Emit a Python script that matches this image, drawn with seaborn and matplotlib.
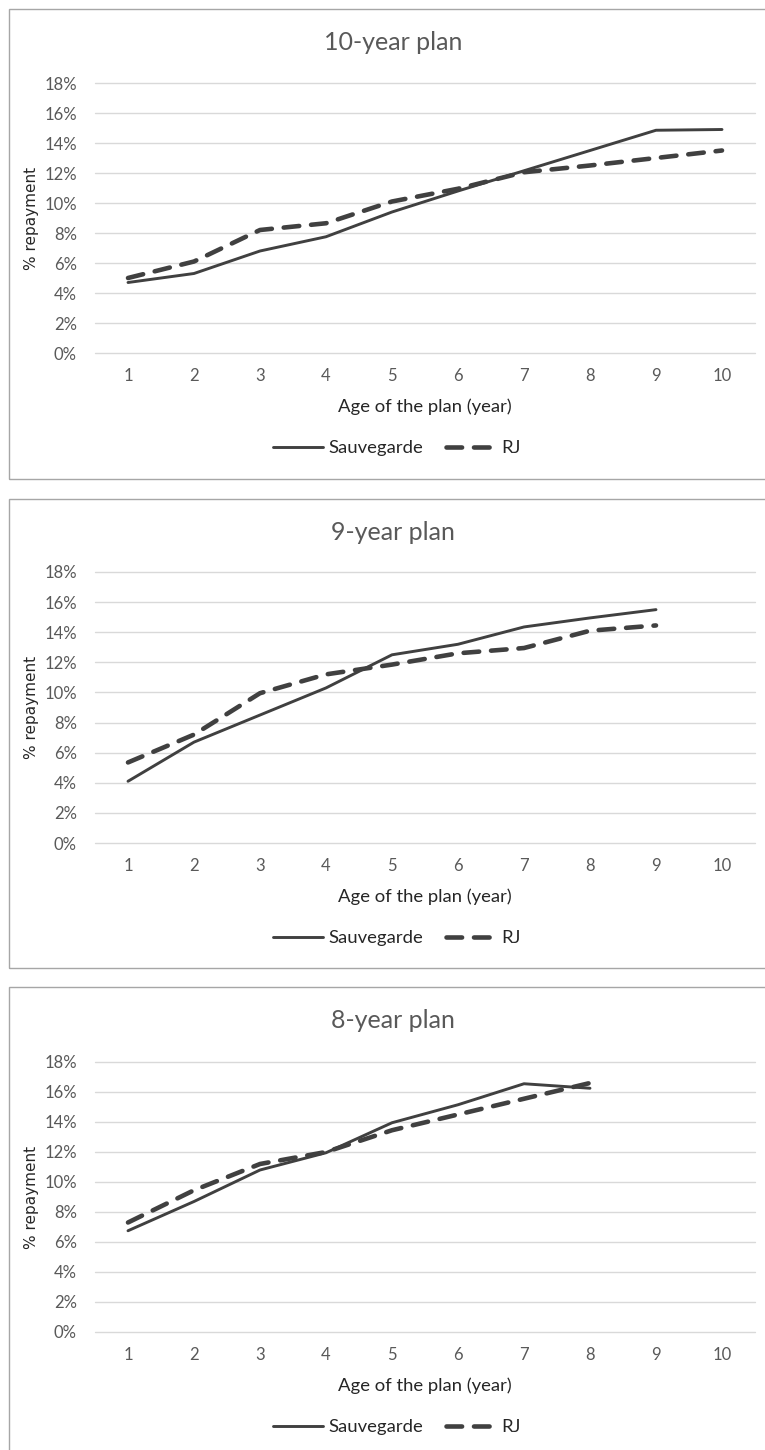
import matplotlib
matplotlib.use("Agg")
import matplotlib.pyplot as plt
from matplotlib.patches import Rectangle
from matplotlib.lines import Line2D
import seaborn as sns
import pandas as pd

# --- data -----------------------------------------------------------------
plan_titles = ["10-year plan", "9-year plan", "8-year plan"]
age_ticks = [1, 2, 3, 4, 5, 6, 7, 8, 9, 10]
pct_ticks = [0, 2, 4, 6, 8, 10, 12, 14, 16, 18]
pct_labels = ["0%", "2%", "4%", "6%", "8%", "10%", "12%", "14%", "16%", "18%"]
series_names = ["Sauvegarde", "RJ"]

sauvegarde_10 = [4.7, 5.3, 6.8, 7.75, 9.4, 10.8, 12.15, 13.5, 14.85, 14.9]
rj_10 = [5.0, 6.1, 8.2, 8.65, 10.1, 10.95, 12.05, 12.5, 13.0, 13.5]

sauvegarde_9 = [4.1, 6.7, 8.5, 10.3, 12.5, 13.2, 14.35, 14.95, 15.5]
rj_9 = [5.35, 7.2, 9.95, 11.2, 11.85, 12.6, 12.95, 14.1, 14.45]

sauvegarde_8 = [6.75, 8.7, 10.8, 11.95, 13.95, 15.15, 16.55, 16.25]
rj_8 = [7.3, 9.45, 11.2, 12.0, 13.45, 14.5, 15.55, 16.6]

panels = [
    (plan_titles[0], sauvegarde_10, rj_10),
    (plan_titles[1], sauvegarde_9, rj_9),
    (plan_titles[2], sauvegarde_8, rj_8),
]

# --- styling --------------------------------------------------------------
sns.set_theme(style="white")
plt.rcParams["font.family"] = ["Lato", "DejaVu Sans"]

LINE_COLOR = "#404040"
GRID_COLOR = "#d9d9d9"
TEXT_COLOR = "#595959"
BORDER_COLOR = "#a6a6a6"
RJ_DASHES = (3.4, 2.6)

W, H = 765, 1450
fig = plt.figure(figsize=(W / 100, H / 100), dpi=100)

# pixel layout of each chart block (top of box, y of 18% line, y of 0% line, bottom of box)
blocks = [
    (9, 83, 353, 479),
    (499, 572, 843, 968),
    (987, 1062, 1332, 1460),
]
AX_LEFT, AX_RIGHT = 95, 755


def fx(px):
    return px / W


def fy(py):
    return 1 - py / H


for (title, sauv, rj), (box_top, y18, y0, box_bot) in zip(panels, blocks):
    # chart border
    fig.patches.append(Rectangle((fx(9), fy(box_bot)), fx(790 - 9), (box_bot - box_top) / H,
                                 transform=fig.transFigure, fill=False,
                                 edgecolor=BORDER_COLOR, linewidth=1.0, zorder=0))

    ax = fig.add_axes([fx(AX_LEFT), fy(y0), fx(AX_RIGHT - AX_LEFT), (y0 - y18) / H])

    df_s = pd.DataFrame({"age": age_ticks[:len(sauv)], "value": sauv})
    df_r = pd.DataFrame({"age": age_ticks[:len(rj)], "value": rj})

    sns.lineplot(data=df_s, x="age", y="value", ax=ax, color=LINE_COLOR,
                 linewidth=2.1, solid_capstyle="round", solid_joinstyle="round", zorder=3)
    sns.lineplot(data=df_r, x="age", y="value", ax=ax, color=LINE_COLOR,
                 linewidth=3.3, dashes=RJ_DASHES, zorder=4)
    for ln in ax.get_lines()[-1:]:
        ln.set_dashes(RJ_DASHES)
        ln.set_dash_capstyle("round")

    ax.set_xlim(0.5, 10.5)
    ax.set_ylim(0, 18)
    ax.set_xticks(age_ticks)
    ax.set_xticklabels([str(a) for a in age_ticks])
    ax.set_yticks(pct_ticks)
    ax.set_yticklabels(pct_labels)
    ax.tick_params(axis="both", length=0, labelsize=12, labelcolor=TEXT_COLOR)
    ax.tick_params(axis="x", pad=11)
    ax.tick_params(axis="y", pad=13)
    ax.grid(axis="y", color=GRID_COLOR, linewidth=1.0, zorder=0)
    for gl in ax.get_ygridlines():
        gl.set_clip_on(False)
    ax.set_axisbelow(True)
    for sp in ax.spines.values():
        sp.set_visible(False)
    ax.set_facecolor("none")
    ax.set_xlabel("")
    ax.set_ylabel("")

    # title, axis titles
    fig.text(fx(393), fy(box_top + 33), title, ha="center", va="center",
             fontsize=18, color=TEXT_COLOR)
    fig.text(fx(425), fy(y0 + 54), "Age of the plan (year)", ha="center", va="center",
             fontsize=13.3, color="#262626")
    fig.text(fx(32), fy((y18 + y0) / 2), "% repayment", ha="center", va="center",
             rotation=90, fontsize=11, color="#262626", family=["DejaVu Sans"])

    # legend
    handles = [
        Line2D([], [], color=LINE_COLOR, linewidth=2.1),
        Line2D([], [], color=LINE_COLOR, linewidth=3.3, dashes=RJ_DASHES,
               dash_capstyle="round"),
    ]
    fig.legend(handles, series_names, loc="center", ncol=2,
               bbox_to_anchor=(fx(397), fy(y0 + 95)), frameon=False,
               fontsize=13.3, labelcolor="#262626", handlelength=2.7,
               handletextpad=0.3, columnspacing=1.2)

fig.savefig("out.png", dpi=100, facecolor="white")
